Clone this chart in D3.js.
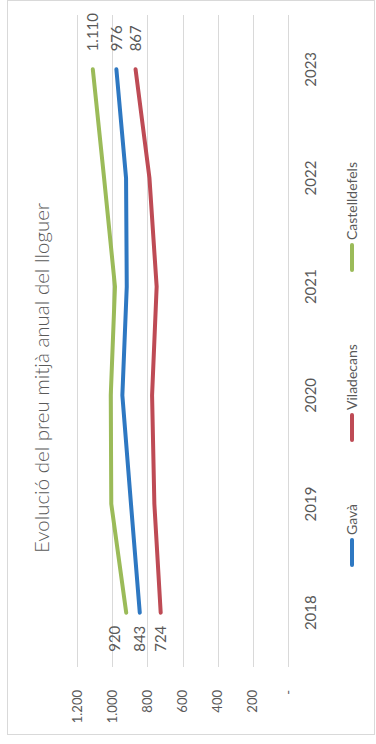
<!DOCTYPE html>
<html>
<head>
<meta charset="utf-8">
<script src="https://cdn.jsdelivr.net/npm/d3@7"></script>
<style>
  html, body { margin: 0; padding: 0; background: #fff; }
  svg { display: block; }
  text { font-family: Lato, "Open Sans", sans-serif; fill: #595959; }
</style>
</head>
<body>
<svg id="chart" width="376" height="744"></svg>
<script>
// Average annual rent (EUR/month) by municipality
const years = ["2018", "2019", "2020", "2021", "2022", "2023"];
const gava = [843, 893, 942, 917, 921, 976];
const viladecans = [724, 760, 773, 747, 788, 867];
const castelldefels = [920, 1005, 1008, 984, 1046, 1110];
const seriesNames = ["Gavà", "Viladecans", "Castelldefels"];
const valueTicks = [0, 200, 400, 600, 800, 1000, 1200];
const title = "Evolució del preu mitjà anual del lloguer";

const series = [
  { name: seriesNames[0], values: gava, color: "#2e78c2" },
  { name: seriesNames[1], values: viladecans, color: "#be4b55" },
  { name: seriesNames[2], values: castelldefels, color: "#9bbb59" }
];
// Castelldefels' first label sits a little higher so it clears the green line
const firstLabelShift = [0, 0, -11];

// Chart is laid out landscape (W x H) and turned a quarter turn counter-clockwise
const W = 744, H = 376;
const svg = d3.select("#chart");
const g = svg.append("g").attr("transform", `translate(0,${W}) rotate(-90)`);

const fmt = v => v === 0 ? "-" : d3.format(",")(v).replace(/,/g, ".");

// Outer frame
g.append("rect")
  .attr("x", 9.5).attr("y", 7.5)
  .attr("width", 734).attr("height", 367)
  .attr("fill", "none").attr("stroke", "#d9d9d9").attr("stroke-width", 1);

const x = d3.scaleBand().domain(years).range([77, 729]).padding(0);
const y = d3.scaleLinear().domain([0, 1200]).range([288, 77]);

// Title
g.append("text")
  .attr("x", 366).attr("y", 49)
  .attr("text-anchor", "middle")
  .style("font-size", "20.5px")
  .style("font-weight", 300)
  .text(title);

// Gridlines
g.append("g").selectAll("line").data(valueTicks).join("line")
  .attr("x1", 77).attr("x2", 729)
  .attr("y1", d => Math.round(y(d)) + 0.5).attr("y2", d => Math.round(y(d)) + 0.5)
  .attr("stroke", "#d9d9d9").attr("stroke-width", 1);

// Value axis labels
g.append("g").selectAll("text").data(valueTicks).join("text")
  .attr("x", 54).attr("y", d => y(d))
  .attr("dy", "0.35em")
  .attr("text-anchor", "end")
  .style("font-size", "13px")
  .text(fmt);

// Category axis labels
g.append("g").selectAll("text").data(years).join("text")
  .attr("x", d => x(d) + x.bandwidth() / 2).attr("y", 311)
  .attr("dy", "0.35em")
  .attr("text-anchor", "middle")
  .style("font-size", "15px")
  .text(d => d);

// Lines
const line = d3.line()
  .x((d, i) => x(years[i]) + x.bandwidth() / 2)
  .y(d => y(d));

g.append("g").selectAll("path").data(series).join("path")
  .attr("d", s => line(s.values))
  .attr("fill", "none")
  .attr("stroke", s => s.color)
  .attr("stroke-width", 4)
  .attr("stroke-linejoin", "round")
  .attr("stroke-linecap", "round");

// End-point value labels
const first = years[0], last = years[years.length - 1];
series.forEach((s, i) => {
  g.append("text")
    .attr("x", x(first) + x.bandwidth() / 2 - 13)
    .attr("y", y(s.values[0]) + firstLabelShift[i])
    .attr("dy", "0.35em")
    .attr("text-anchor", "end")
    .style("font-size", "15px")
    .text(fmt(s.values[0]));
  g.append("text")
    .attr("x", x(last) + x.bandwidth() / 2 + 18)
    .attr("y", y(s.values[s.values.length - 1]))
    .attr("dy", "0.35em")
    .attr("text-anchor", "start")
    .style("font-size", "15px")
    .text(fmt(s.values[s.values.length - 1]));
});

// Legend
const legendX = [179, 304, 474];
const leg = g.append("g").selectAll("g").data(series).join("g")
  .attr("transform", (d, i) => `translate(${legendX[i]},352)`);
leg.append("line")
  .attr("x1", 0).attr("x2", 25).attr("y1", 0).attr("y2", 0)
  .attr("stroke", d => d.color).attr("stroke-width", 4)
  .attr("stroke-linecap", "round");
leg.append("text")
  .attr("x", 30).attr("y", 0).attr("dy", "0.35em")
  .style("font-size", "14px")
  .text(d => d.name);
</script>
</body>
</html>
